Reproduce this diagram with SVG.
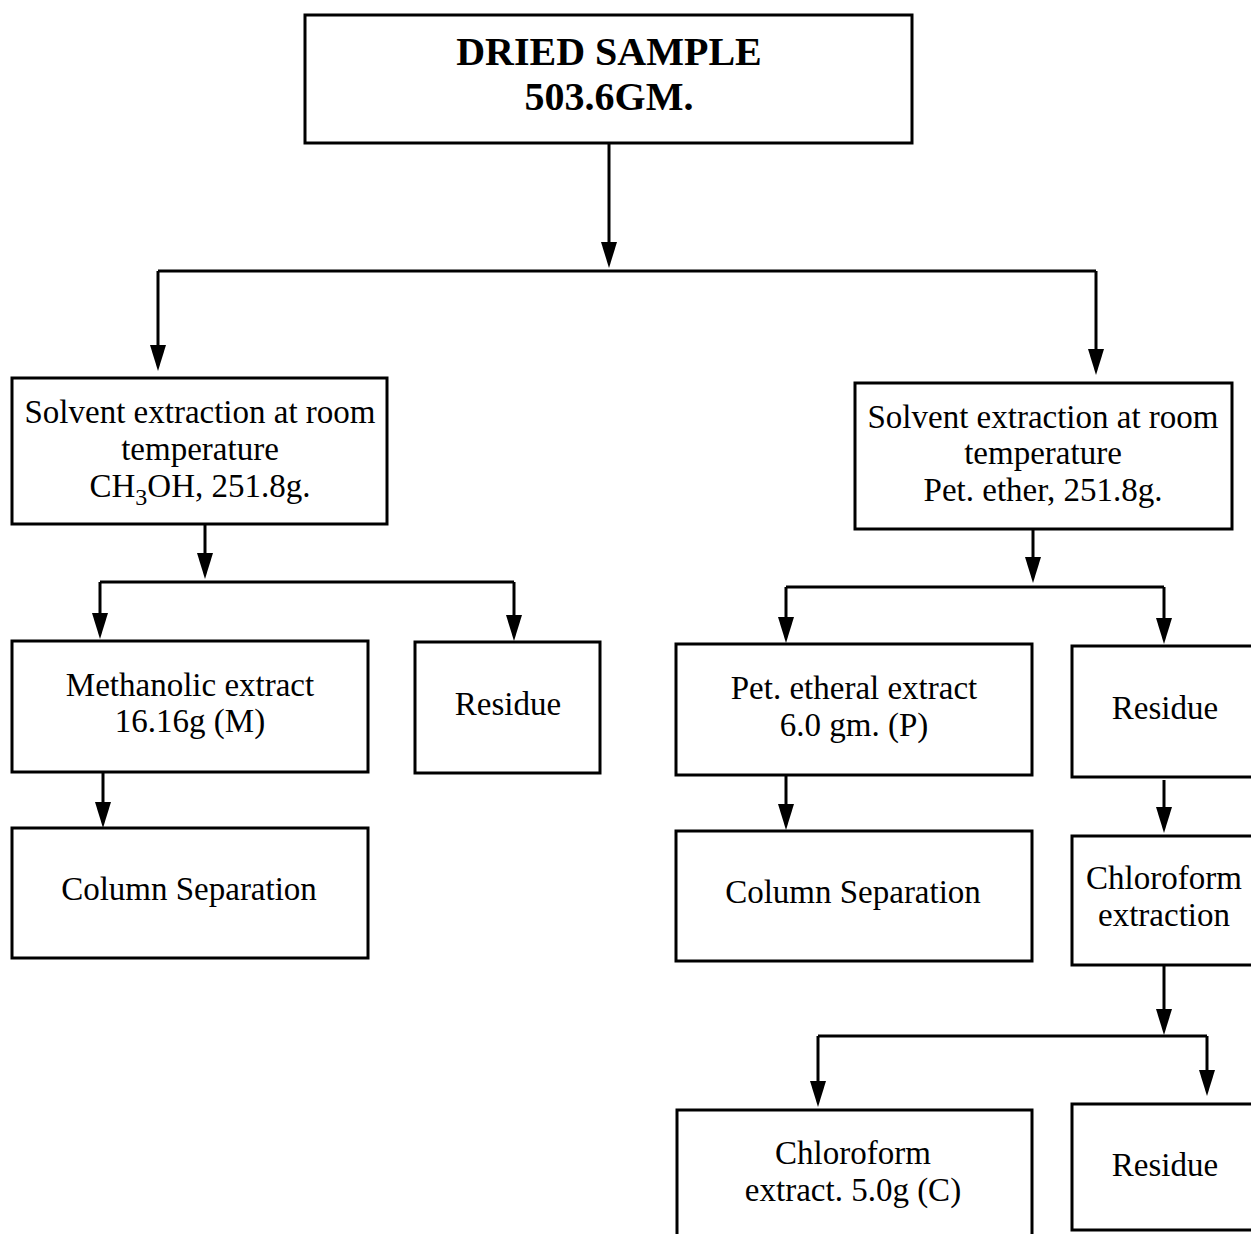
<svg xmlns="http://www.w3.org/2000/svg" width="1251" height="1234" viewBox="0 0 1251 1234">
<style>
.box{fill:#fff;stroke:#000;stroke-width:3}
.t{font-family:"Liberation Serif","Times New Roman",serif;font-size:33px;fill:#000;text-anchor:middle}
.b{font-family:"Liberation Serif","Times New Roman",serif;font-size:40px;font-weight:bold;fill:#000;text-anchor:middle}
.c{fill:none;stroke:#000;stroke-width:3}
.h{fill:#000}
</style>
<rect width="1251" height="1234" fill="#fff"/>
<g id="connectors">
<path class="c" d="M609,143 V244"/>
<path class="h" d="M601,242 L617,242 L609,268 Z"/>
<path class="c" d="M158,271 H1096"/>
<path class="c" d="M158,271 V348"/>
<path class="h" d="M150,345 L166,345 L158,371 Z"/>
<path class="c" d="M1096,271 V352"/>
<path class="h" d="M1088,349 L1104,349 L1096,375 Z"/>
<path class="c" d="M205,524 V556"/>
<path class="h" d="M197,553 L213,553 L205,579 Z"/>
<path class="c" d="M100,582 H514"/>
<path class="c" d="M100,582 V616"/>
<path class="h" d="M92,613 L108,613 L100,639 Z"/>
<path class="c" d="M514,582 V618"/>
<path class="h" d="M506,615 L522,615 L514,641 Z"/>
<path class="c" d="M103,772 V805"/>
<path class="h" d="M95,802 L111,802 L103,828 Z"/>
<path class="c" d="M1033,529 V560"/>
<path class="h" d="M1025,557 L1041,557 L1033,583 Z"/>
<path class="c" d="M786,587 H1164"/>
<path class="c" d="M786,587 V620"/>
<path class="h" d="M778,617 L794,617 L786,643 Z"/>
<path class="c" d="M1164,587 V621"/>
<path class="h" d="M1156,618 L1172,618 L1164,644 Z"/>
<path class="c" d="M786,775 V807"/>
<path class="h" d="M778,804 L794,804 L786,830 Z"/>
<path class="c" d="M1164,780 V810"/>
<path class="h" d="M1156,807 L1172,807 L1164,833 Z"/>
<path class="c" d="M1164,965 V1012"/>
<path class="h" d="M1156,1009 L1172,1009 L1164,1035 Z"/>
<path class="c" d="M818,1036 H1207"/>
<path class="c" d="M818,1036 V1084"/>
<path class="h" d="M810,1081 L826,1081 L818,1107 Z"/>
<path class="c" d="M1207,1036 V1073"/>
<path class="h" d="M1199,1070 L1215,1070 L1207,1096 Z"/>
</g>
<g id="dried-sample">
<rect class="box" x="305" y="15" width="607" height="128"/>
<text class="b" x="609" y="65">DRIED SAMPLE</text>
<text class="b" x="609" y="110">503.6GM.</text>
</g>
<g id="solvent-methanol">
<rect class="box" x="12" y="378" width="375" height="146"/>
<text class="t" x="200" y="423">Solvent extraction at room</text>
<text class="t" x="200" y="460">temperature</text>
<text class="t" x="200" y="497">CH<tspan font-size="24" dy="8">3</tspan><tspan dy="-8">OH, 251.8g.</tspan></text>
</g>
<g id="solvent-petether">
<rect class="box" x="855" y="383" width="377" height="146"/>
<text class="t" x="1043" y="428">Solvent extraction at room</text>
<text class="t" x="1043" y="464">temperature</text>
<text class="t" x="1043" y="501">Pet. ether, 251.8g.</text>
</g>
<g id="methanolic-extract">
<rect class="box" x="12" y="641" width="356" height="131"/>
<text class="t" x="190" y="696">Methanolic extract</text>
<text class="t" x="190" y="732">16.16g (M)</text>
</g>
<g id="residue-1">
<rect class="box" x="415" y="642" width="185" height="131"/>
<text class="t" x="508" y="715">Residue</text>
</g>
<g id="column-sep-1">
<rect class="box" x="12" y="828" width="356" height="130"/>
<text class="t" x="189" y="900">Column Separation</text>
</g>
<g id="pet-etheral-extract">
<rect class="box" x="676" y="644" width="356" height="131"/>
<text class="t" x="854" y="699">Pet. etheral extract</text>
<text class="t" x="854" y="736">6.0 gm. (P)</text>
</g>
<g id="residue-2">
<rect class="box" x="1072" y="646" width="185" height="131"/>
<text class="t" x="1165" y="719">Residue</text>
</g>
<g id="column-sep-2">
<rect class="box" x="676" y="831" width="356" height="130"/>
<text class="t" x="853" y="903">Column Separation</text>
</g>
<g id="chloroform-extraction">
<rect class="box" x="1072" y="836" width="185" height="129"/>
<text class="t" x="1164" y="889">Chloroform</text>
<text class="t" x="1164" y="926">extraction</text>
</g>
<g id="chloroform-extract">
<rect class="box" x="677" y="1110" width="355" height="140"/>
<text class="t" x="853" y="1164">Chloroform</text>
<text class="t" x="853" y="1201">extract. 5.0g (C)</text>
</g>
<g id="residue-3">
<rect class="box" x="1072" y="1104" width="185" height="126"/>
<text class="t" x="1165" y="1176">Residue</text>
</g>
</svg>
